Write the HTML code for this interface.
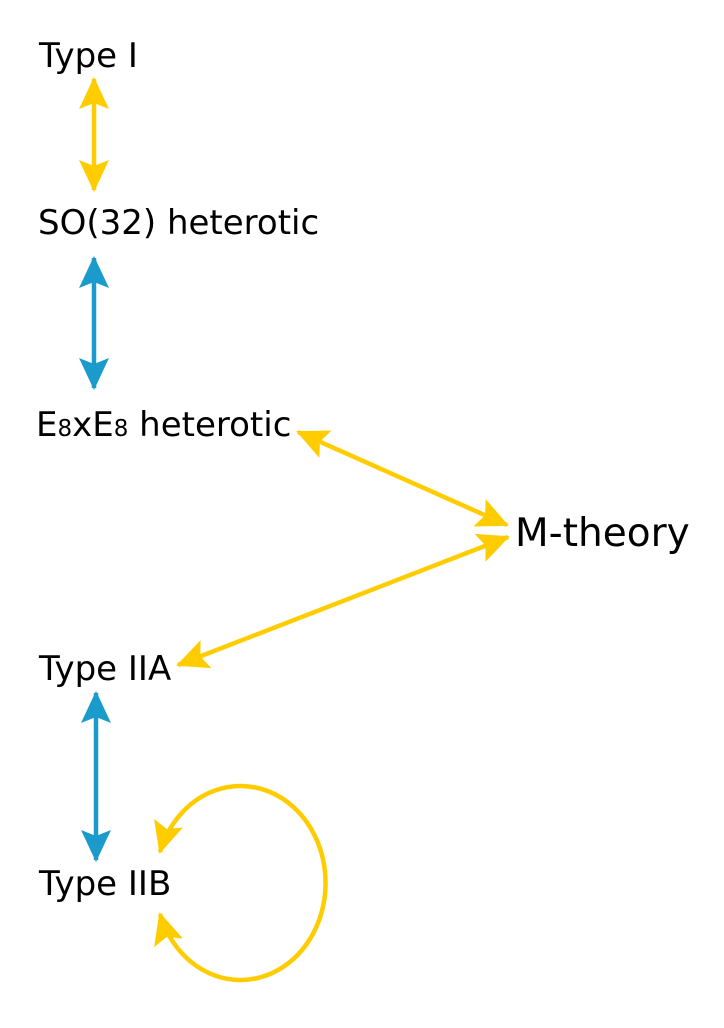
<!DOCTYPE html>
<html><head><meta charset="utf-8"><style>
html,body{margin:0;padding:0;background:#fff;}
text{font-family:"DejaVu Sans","Liberation Sans",sans-serif;fill:#000;}
</style></head><body>
<svg width="724" height="1023" viewBox="0 0 724 1023" xmlns="http://www.w3.org/2000/svg">
<defs>
<marker id="y" viewBox="0 0 32 30" refX="30" refY="15" markerWidth="32" markerHeight="30" markerUnits="userSpaceOnUse" orient="auto-start-reverse">
<path d="M0,0 L32,15 L0,30 L6,15 z" fill="#FFCC00"/></marker>
<marker id="b" viewBox="0 0 32 30" refX="30" refY="15" markerWidth="32" markerHeight="30" markerUnits="userSpaceOnUse" orient="auto-start-reverse">
<path d="M0,0 L32,15 L0,30 L6,15 z" fill="#1A9BCB"/></marker>
</defs>
<g font-size="34">
<text x="39" y="67">Type I</text>
<text x="38" y="234">SO(32) heterotic</text>
<text x="36" y="436">E<tspan font-size="23">8</tspan>xE<tspan font-size="23">8</tspan> heterotic</text>
<text x="39" y="680">Type IIA</text>
<text x="39" y="895">Type IIB</text>
</g>
<text x="515" y="546" font-size="39">M-theory</text>
<g fill="none" stroke-width="4.5">
<line x1="94" y1="79" x2="94" y2="190" stroke="#FFCC00" marker-start="url(#y)" marker-end="url(#y)"/>
<line x1="94" y1="258" x2="94" y2="388" stroke="#1A9BCB" marker-start="url(#b)" marker-end="url(#b)"/>
<line x1="298" y1="432" x2="507" y2="525" stroke="#FFCC00" marker-start="url(#y)" marker-end="url(#y)"/>
<line x1="508" y1="537" x2="178" y2="665" stroke="#FFCC00" marker-start="url(#y)" marker-end="url(#y)"/>
<line x1="96" y1="693" x2="96" y2="860" stroke="#1A9BCB" marker-start="url(#b)" marker-end="url(#b)"/>
<path d="M160 852 A85 97 0 1 1 160 914" stroke="#FFCC00" marker-start="url(#y)" marker-end="url(#y)"/>
</g>
</svg>
</body></html>
